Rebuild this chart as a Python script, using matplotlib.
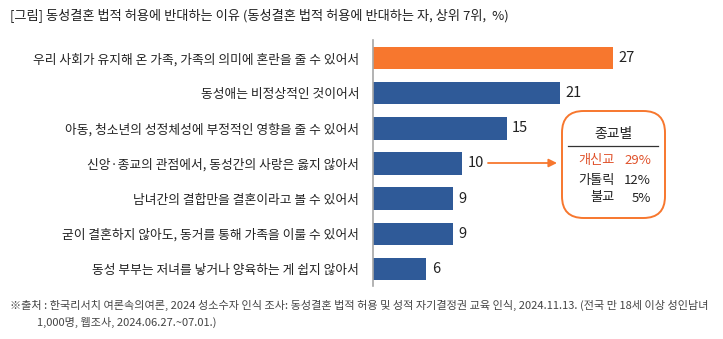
import matplotlib
matplotlib.use("Agg")
import matplotlib.pyplot as plt
from matplotlib.patches import FancyBboxPatch

plt.rcParams["font.family"] = ["Noto Sans CJK KR", "DejaVu Sans"]

# ---------------------------------------------------------------------------
# Data
# ---------------------------------------------------------------------------
reasons = [
    "우리 사회가 유지해 온 가족, 가족의 의미에 혼란을 줄 수 있어서",
    "동성애는 비정상적인 것이어서",
    "아동, 청소년의 성정체성에 부정적인 영향을 줄 수 있어서",
    "신앙·종교의 관점에서, 동성간의 사랑은 옳지 않아서",
    "남녀간의 결합만을 결혼이라고 볼 수 있어서",
    "굳이 결혼하지 않아도, 동거를 통해 가족을 이룰 수 있어서",
    "동성 부부는 저녀를 낳거나 양육하는 게 쉽지 않아서",
]
values = [27, 21, 15, 10, 9, 9, 6]

religions = ["개신교", "가톨릭", "불교"]
religion_pct = [29, 12, 5]

ORANGE = "#F7772E"
BLUE = "#2F5A98"
RED = "#E0522B"
TEXT = "#222222"

W, H = 723, 339
fig = plt.figure(figsize=(W / 100, H / 100), dpi=100)

# axes placed in pixel terms: left edge = y-axis line
ax_l, ax_r, ax_t, ax_b = 373, 723, 40.5, 286.5
ax = fig.add_axes([ax_l / W, 1 - ax_b / H, (ax_r - ax_l) / W, (ax_b - ax_t) / H])
xmax = (ax_r - ax_l) / 8.9
ax.set_xlim(0, xmax)
ax.set_ylim(len(values) - 0.5, -0.5)

ypos = list(range(len(values)))
colors = [ORANGE] + [BLUE] * (len(values) - 1)
ax.barh(ypos, values, height=0.64, color=colors, zorder=2)

for y, v in zip(ypos, values):
    ax.text(v + 0.6, y, str(v), va="center", ha="left", fontsize=10.5, color=TEXT)

ax.set_yticks(ypos)
ax.set_yticklabels(reasons, fontsize=9.2, color=TEXT)
ax.tick_params(axis="y", length=0, pad=10)
ax.set_xticks([])
for side in ["top", "right", "bottom"]:
    ax.spines[side].set_visible(False)
ax.spines["left"].set_color("#A6A6A6")
ax.spines["left"].set_linewidth(1.2)
ax.patch.set_alpha(0)


def px(x, y):
    return x / W, 1 - y / H


# arrow from the religion bar to the breakdown box
ax.annotate("", xy=px(557, 163), xytext=px(488, 163),
            xycoords="figure fraction", textcoords="figure fraction",
            arrowprops=dict(arrowstyle="-|>", color=ORANGE, lw=1.3,
                            mutation_scale=12, shrinkA=0, shrinkB=0))

# breakdown box by religion
bx0, by0 = px(562, 218)
bx1, by1 = px(665, 111)
box = FancyBboxPatch((bx0, by0), bx1 - bx0, by1 - by0,
                     boxstyle="round,pad=0,rounding_size=0.03",
                     transform=fig.transFigure, facecolor="white",
                     edgecolor=ORANGE, linewidth=1.4, mutation_aspect=W / H)
fig.patches.append(box)

fig.text(*px(613, 134), "종교별", ha="center", va="center", fontsize=10, color=TEXT)
fig.add_artist(plt.Line2D([568 / W, 658 / W], [1 - 146 / H, 1 - 146 / H],
                          color="#333333", lw=0.9))
row_y = [161, 180, 198]
for name, pct, yy in zip(religions, religion_pct, row_y):
    c = RED if name == "개신교" else TEXT
    fig.text(*px(615, yy), name, ha="right", va="center", fontsize=9.5, color=c)
    fig.text(*px(651, yy), f"{pct}%", ha="right", va="center", fontsize=9.5, color=c)

# title and source note
fig.text(*px(10, 16), "[그림] 동성결혼 법적 허용에 반대하는 이유 (동성결혼 법적 허용에 반대하는 자, 상위 7위,  %)",
         ha="left", va="center", fontsize=9.5, color=TEXT)
fig.text(*px(10, 305), "※출처 : 한국리서치 여론속의여론, 2024 성소수자 인식 조사: 동성결혼 법적 허용 및 성적 자기결정권 교육 인식, "
         "2024.11.13. (전국 만 18세 이상 성인남녀",
         ha="left", va="center", fontsize=8, color="#444444")
fig.text(*px(37, 322), "1,000명, 웹조사, 2024.06.27.~07.01.)",
         ha="left", va="center", fontsize=8, color="#444444")

fig.savefig("out.png", dpi=100, facecolor="white")
